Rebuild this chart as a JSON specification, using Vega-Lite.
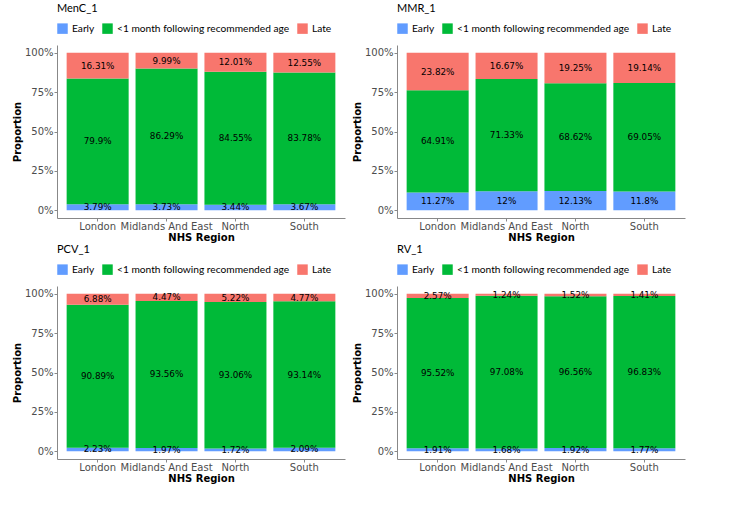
{
  "$schema": "https://vega.github.io/schema/vega-lite/v6.json",
  "padding": {"left": 12, "top": 3, "right": 10, "bottom": 10},
  "background": "white",
  "data": {"values": [
    {"vaccine": "MenC_1", "region": "London", "category": "Early", "value": 3.79},
    {"vaccine": "MenC_1", "region": "London", "category": "<1 month following recommended age", "value": 79.9},
    {"vaccine": "MenC_1", "region": "London", "category": "Late", "value": 16.31},
    {"vaccine": "MenC_1", "region": "Midlands And East", "category": "Early", "value": 3.73},
    {"vaccine": "MenC_1", "region": "Midlands And East", "category": "<1 month following recommended age", "value": 86.29},
    {"vaccine": "MenC_1", "region": "Midlands And East", "category": "Late", "value": 9.99},
    {"vaccine": "MenC_1", "region": "North", "category": "Early", "value": 3.44},
    {"vaccine": "MenC_1", "region": "North", "category": "<1 month following recommended age", "value": 84.55},
    {"vaccine": "MenC_1", "region": "North", "category": "Late", "value": 12.01},
    {"vaccine": "MenC_1", "region": "South", "category": "Early", "value": 3.67},
    {"vaccine": "MenC_1", "region": "South", "category": "<1 month following recommended age", "value": 83.78},
    {"vaccine": "MenC_1", "region": "South", "category": "Late", "value": 12.55},
    {"vaccine": "MMR_1", "region": "London", "category": "Early", "value": 11.27},
    {"vaccine": "MMR_1", "region": "London", "category": "<1 month following recommended age", "value": 64.91},
    {"vaccine": "MMR_1", "region": "London", "category": "Late", "value": 23.82},
    {"vaccine": "MMR_1", "region": "Midlands And East", "category": "Early", "value": 12},
    {"vaccine": "MMR_1", "region": "Midlands And East", "category": "<1 month following recommended age", "value": 71.33},
    {"vaccine": "MMR_1", "region": "Midlands And East", "category": "Late", "value": 16.67},
    {"vaccine": "MMR_1", "region": "North", "category": "Early", "value": 12.13},
    {"vaccine": "MMR_1", "region": "North", "category": "<1 month following recommended age", "value": 68.62},
    {"vaccine": "MMR_1", "region": "North", "category": "Late", "value": 19.25},
    {"vaccine": "MMR_1", "region": "South", "category": "Early", "value": 11.8},
    {"vaccine": "MMR_1", "region": "South", "category": "<1 month following recommended age", "value": 69.05},
    {"vaccine": "MMR_1", "region": "South", "category": "Late", "value": 19.14},
    {"vaccine": "PCV_1", "region": "London", "category": "Early", "value": 2.23},
    {"vaccine": "PCV_1", "region": "London", "category": "<1 month following recommended age", "value": 90.89},
    {"vaccine": "PCV_1", "region": "London", "category": "Late", "value": 6.88},
    {"vaccine": "PCV_1", "region": "Midlands And East", "category": "Early", "value": 1.97},
    {"vaccine": "PCV_1", "region": "Midlands And East", "category": "<1 month following recommended age", "value": 93.56},
    {"vaccine": "PCV_1", "region": "Midlands And East", "category": "Late", "value": 4.47},
    {"vaccine": "PCV_1", "region": "North", "category": "Early", "value": 1.72},
    {"vaccine": "PCV_1", "region": "North", "category": "<1 month following recommended age", "value": 93.06},
    {"vaccine": "PCV_1", "region": "North", "category": "Late", "value": 5.22},
    {"vaccine": "PCV_1", "region": "South", "category": "Early", "value": 2.09},
    {"vaccine": "PCV_1", "region": "South", "category": "<1 month following recommended age", "value": 93.14},
    {"vaccine": "PCV_1", "region": "South", "category": "Late", "value": 4.77},
    {"vaccine": "RV_1", "region": "London", "category": "Early", "value": 1.91},
    {"vaccine": "RV_1", "region": "London", "category": "<1 month following recommended age", "value": 95.52},
    {"vaccine": "RV_1", "region": "London", "category": "Late", "value": 2.57},
    {"vaccine": "RV_1", "region": "Midlands And East", "category": "Early", "value": 1.68},
    {"vaccine": "RV_1", "region": "Midlands And East", "category": "<1 month following recommended age", "value": 97.08},
    {"vaccine": "RV_1", "region": "Midlands And East", "category": "Late", "value": 1.24},
    {"vaccine": "RV_1", "region": "North", "category": "Early", "value": 1.92},
    {"vaccine": "RV_1", "region": "North", "category": "<1 month following recommended age", "value": 96.56},
    {"vaccine": "RV_1", "region": "North", "category": "Late", "value": 1.52},
    {"vaccine": "RV_1", "region": "South", "category": "Early", "value": 1.77},
    {"vaccine": "RV_1", "region": "South", "category": "<1 month following recommended age", "value": 96.83},
    {"vaccine": "RV_1", "region": "South", "category": "Late", "value": 1.41}
  ]},
  "transform": [
    {"calculate": "indexof(['Early','<1 month following recommended age','Late'], datum.category)", "as": "k"},
    {"stack": "value", "groupby": ["vaccine", "region"], "sort": [{"field": "k", "order": "ascending"}], "offset": "normalize", "as": ["y0", "y1"]},
    {"calculate": "(datum.y0 + datum.y1) / 2", "as": "ymid"},
    {"calculate": "datum.value + '%'", "as": "label"}
  ],
  "spacing": 2,
  "vconcat": [
    {
      "spacing": 7,
      "hconcat": [
        {
          "title": "MenC_1",
          "width": 288, "height": 173,
          "transform": [{"filter": "datum.vaccine === 'MenC_1'"}],
          "encoding": {
            "x": {"field": "region", "type": "nominal", "sort": ["London", "Midlands And East", "North", "South"], "title": "NHS Region", "scale": {"paddingInner": 0.1, "paddingOuter": 0.14}},
            "y": {"field": "y0", "type": "quantitative", "title": "Proportion", "scale": {"domain": [-0.05, 1.05], "nice": false, "zero": false}, "axis": {"values": [0, 0.25, 0.5, 0.75, 1], "format": ".0%"}}
          },
          "layer": [
            {"mark": "bar", "encoding": {"y2": {"field": "y1"}, "color": {"field": "category", "type": "nominal", "title": null, "sort": ["Early", "<1 month following recommended age", "Late"], "scale": {"domain": ["Early", "<1 month following recommended age", "Late"], "range": ["#619CFF", "#00BA38", "#F8766D"]}}}},
            {"mark": {"type": "text", "font": "DejaVu Sans", "fontSize": 8.8, "color": "black"}, "encoding": {"y": {"field": "ymid", "type": "quantitative"}, "text": {"field": "label"}}}
          ]
        },
        {
          "title": "MMR_1",
          "width": 288, "height": 173,
          "transform": [{"filter": "datum.vaccine === 'MMR_1'"}],
          "encoding": {
            "x": {"field": "region", "type": "nominal", "sort": ["London", "Midlands And East", "North", "South"], "title": "NHS Region", "scale": {"paddingInner": 0.1, "paddingOuter": 0.14}},
            "y": {"field": "y0", "type": "quantitative", "title": "Proportion", "scale": {"domain": [-0.05, 1.05], "nice": false, "zero": false}, "axis": {"values": [0, 0.25, 0.5, 0.75, 1], "format": ".0%"}}
          },
          "layer": [
            {"mark": "bar", "encoding": {"y2": {"field": "y1"}, "color": {"field": "category", "type": "nominal", "title": null, "sort": ["Early", "<1 month following recommended age", "Late"], "scale": {"domain": ["Early", "<1 month following recommended age", "Late"], "range": ["#619CFF", "#00BA38", "#F8766D"]}}}},
            {"mark": {"type": "text", "font": "DejaVu Sans", "fontSize": 8.8, "color": "black"}, "encoding": {"y": {"field": "ymid", "type": "quantitative"}, "text": {"field": "label"}}}
          ]
        }
      ],
      "resolve": {"scale": {"color": "independent", "x": "independent", "y": "independent"}, "legend": {"color": "independent"}}
    },
    {
      "spacing": 7,
      "hconcat": [
        {
          "title": "PCV_1",
          "width": 288, "height": 173,
          "transform": [{"filter": "datum.vaccine === 'PCV_1'"}],
          "encoding": {
            "x": {"field": "region", "type": "nominal", "sort": ["London", "Midlands And East", "North", "South"], "title": "NHS Region", "scale": {"paddingInner": 0.1, "paddingOuter": 0.14}},
            "y": {"field": "y0", "type": "quantitative", "title": "Proportion", "scale": {"domain": [-0.05, 1.05], "nice": false, "zero": false}, "axis": {"values": [0, 0.25, 0.5, 0.75, 1], "format": ".0%"}}
          },
          "layer": [
            {"mark": "bar", "encoding": {"y2": {"field": "y1"}, "color": {"field": "category", "type": "nominal", "title": null, "sort": ["Early", "<1 month following recommended age", "Late"], "scale": {"domain": ["Early", "<1 month following recommended age", "Late"], "range": ["#619CFF", "#00BA38", "#F8766D"]}}}},
            {"mark": {"type": "text", "font": "DejaVu Sans", "fontSize": 8.8, "color": "black"}, "encoding": {"y": {"field": "ymid", "type": "quantitative"}, "text": {"field": "label"}}}
          ]
        },
        {
          "title": "RV_1",
          "width": 288, "height": 173,
          "transform": [{"filter": "datum.vaccine === 'RV_1'"}],
          "encoding": {
            "x": {"field": "region", "type": "nominal", "sort": ["London", "Midlands And East", "North", "South"], "title": "NHS Region", "scale": {"paddingInner": 0.1, "paddingOuter": 0.14}},
            "y": {"field": "y0", "type": "quantitative", "title": "Proportion", "scale": {"domain": [-0.05, 1.05], "nice": false, "zero": false}, "axis": {"values": [0, 0.25, 0.5, 0.75, 1], "format": ".0%"}}
          },
          "layer": [
            {"mark": "bar", "encoding": {"y2": {"field": "y1"}, "color": {"field": "category", "type": "nominal", "title": null, "sort": ["Early", "<1 month following recommended age", "Late"], "scale": {"domain": ["Early", "<1 month following recommended age", "Late"], "range": ["#619CFF", "#00BA38", "#F8766D"]}}}},
            {"mark": {"type": "text", "font": "DejaVu Sans", "fontSize": 8.8, "color": "black"}, "encoding": {"y": {"field": "ymid", "type": "quantitative"}, "text": {"field": "label"}}}
          ]
        }
      ],
      "resolve": {"scale": {"color": "independent", "x": "independent", "y": "independent"}, "legend": {"color": "independent"}}
    }
  ],
  "resolve": {"scale": {"color": "independent", "x": "independent", "y": "independent"}, "legend": {"color": "independent"}},
  "config": {
    "view": {"stroke": null},
    "title": {"anchor": "start", "frame": "group", "font": "Lato", "fontSize": 11, "fontWeight": "normal", "color": "black", "offset": 9},
    "legend": {"orient": "top", "direction": "horizontal", "labelFont": "Lato", "labelFontSize": 10.2, "labelColor": "black", "symbolType": "square", "symbolSize": 110, "symbolStrokeWidth": 0, "columnPadding": 7, "labelOffset": 4, "offset": 11, "padding": 0, "labelLimit": 400},
    "axis": {"domainColor": "#888888", "tickColor": "#888888", "labelColor": "#4D4D4D", "labelFont": "DejaVu Sans", "labelFontSize": 10, "titleFont": "DejaVu Sans", "titleFontSize": 10, "titleFontWeight": "bold", "titleColor": "black", "tickSize": 3, "grid": false},
    "axisX": {"labelAngle": 0, "labelPadding": 0, "titlePadding": 1},
    "axisY": {"labelPadding": 1, "titlePadding": 2}
  }
}
